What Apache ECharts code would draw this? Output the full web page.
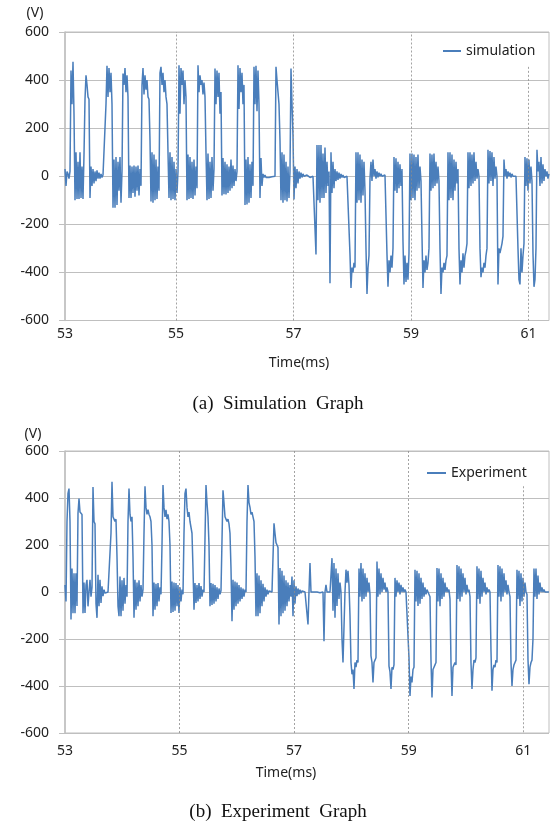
<!DOCTYPE html>
<html>
<head>
<meta charset="utf-8">
<script src="https://cdn.jsdelivr.net/npm/echarts@6/dist/echarts.min.js"></script>
<style>
html,body{margin:0;padding:0;background:#fff;}
#chart{width:556px;height:827px;}
</style>
</head>
<body>
<div id="chart"></div>
<script>
// ---- data (time in ms, voltage in V) ----
const simTimeStart = 53.11;     // first sample time (ms)
const simTimeStep = 0.017024;   // sample interval (ms)
const simValues = [
  30,-40,20,10,-10,20,440,300,476,260,
  -100,100,-95,60,-95,100,-90,40,-95,90,
  320,420,380,330,320,-90,40,-40,30,-30,
  20,-20,25,-10,15,-10,10,-5,5,0,
  5,300,460,330,450,350,430,300,-131,70,
  -131,80,-120,60,-60,80,-110,20,427,380,
  450,350,420,330,-90,45,-90,40,-70,45,
  -85,40,-60,45,-80,30,-40,380,450,340,
  420,360,400,330,320,150,-105,100,-110,90,
  -100,70,-95,40,-60,430,455,380,430,350,
  400,330,300,100,-90,100,-100,80,-95,60,
  -100,30,-70,20,462,260,450,380,440,300,
  400,330,-100,90,-95,80,-90,60,-95,70,
  -80,40,-50,462,350,420,380,400,340,390,
  330,100,-100,95,-95,60,-90,80,-60,30,
  448,300,440,330,430,260,350,-80,76,-75,
  60,-76,50,-70,40,-60,70,-50,45,-40,
  30,-20,20,462,280,450,350,430,300,380,
  -120,70,-117,80,-110,50,-90,60,-40,455,
  300,460,270,440,300,-90,76,-40,10,-5,
  5,-5,0,0,-5,0,0,-2,0,2,
  0,455,400,350,300,150,-100,100,-110,90,
  -100,60,-105,40,-90,20,448,300,170,-97,
  40,-50,30,-30,20,-10,15,-5,10,0,
  5,0,5,0,5,-5,0,2,0,0,
  0,-325,130,-100,130,-110,130,-90,95,-90,
  120,-70,60,-40,20,-445,100,-70,60,-50,
  30,-20,20,-15,15,-10,10,-5,5,-5,
  0,0,0,0,0,-325,-465,-380,-400,-360,
  -380,100,-110,100,-100,90,-110,70,-80,60,
  -60,-300,-490,-380,-330,-10,60,-20,70,0,
  30,-10,20,-5,15,0,10,0,5,0,
  5,0,-325,-460,-350,-400,-330,-380,-300,80,
  -60,75,-70,60,-50,50,-40,30,-270,-450,
  -330,-440,-360,-430,-320,95,-100,95,-90,90,
  -100,80,-60,90,-50,40,-20,-250,-465,-350,
  -400,-330,-390,-360,-300,95,-60,90,-50,95,
  -40,60,-30,40,-20,-300,-490,-380,-400,-360,
  -390,-350,-330,100,-100,100,-90,90,-100,70,
  -60,60,-30,30,-300,-450,-350,-400,-320,-380,
  -330,-310,-280,100,-50,100,-40,90,-30,100,
  -20,60,-10,30,0,-300,-420,-380,-400,-360,
  -380,-330,-300,110,-30,105,-20,100,-40,80,
  -10,40,0,-450,-300,-320,-300,-280,-250,70,
  0,30,-10,20,0,15,-5,10,0,5,
  0,0,0,-300,-430,-450,-300,-400,-330,-280,
  80,-40,75,-60,70,-30,40,-20,-320,-460,
  -430,-300,110,20,60,-40,80,-30,50,-20,
  30,0,20,-10,10
];

const expTimeStart = 53.0;
const expTimeStep = 0.017458;
const expValues = [
  30,-40,300,420,440,300,-117,100,-90,80,
  -90,80,-60,335,398,340,335,330,-90,40,
  -89,30,52,-61,0,52,-20,20,447,300,
  290,-50,-110,73,-61,52,-47,24,-18,10,
  -5,0,-5,0,0,-5,250,469,320,310,
  300,310,150,-60,-103,66,-103,50,-80,60,
  -50,30,-20,300,440,330,300,320,150,-110,
  52,-75,40,-60,50,-40,30,-20,10,250,
  450,360,330,350,330,320,300,200,-103,40,
  -75,35,-60,38,-40,20,-10,200,455,360,
  320,350,310,330,300,200,-89,45,-85,40,
  -80,38,-60,30,-89,20,-40,10,-10,250,
  420,440,360,320,340,300,300,250,100,-75,
  38,-47,30,-40,38,-30,25,-20,10,0,
  0,455,380,320,200,-61,38,-55,35,-50,
  30,-40,20,-30,15,-10,5,0,433,380,
  320,310,300,310,290,250,100,-124,52,-75,
  45,-60,40,-50,30,-40,20,-30,15,-20,
  10,0,300,455,380,360,330,340,320,300,
  150,-103,80,-103,70,-90,50,-60,35,-40,
  20,-20,10,-10,5,0,0,0,0,292,
  250,210,200,190,-138,102,-103,90,-90,70,
  -80,50,-60,40,-40,30,-20,66,-103,50,
  -50,24,-18,15,-10,10,-5,5,0,2,
  0,0,0,-138,0,123,0,-5,0,0,
  -3,0,0,0,0,-3,0,0,0,-209,
  0,30,0,0,0,0,0,144,-80,123,
  -110,100,-60,80,-30,40,0,-200,-300,-150,
  0,95,40,90,30,-100,-300,-350,-330,-413,
  -300,-320,-290,-300,100,-20,123,-40,100,-30,
  80,-20,60,0,40,-10,-272,-300,-385,-300,
  -290,-280,130,-20,100,-10,80,0,60,10,
  40,0,20,0,-315,-340,-413,-320,-330,-310,
  60,-20,50,0,40,-10,30,0,20,0,
  10,0,5,0,-280,-442,-360,-385,-330,-320,
  95,-40,90,-60,80,-50,60,-30,40,-20,
  20,-10,10,0,0,-20,-290,-449,-330,-320,
  -310,-300,102,-40,100,-61,80,-30,60,-20,
  40,0,20,0,10,-30,-300,-442,-320,-310,
  -300,-310,115,-30,110,-40,100,-20,80,0,
  60,-10,30,0,10,-20,-300,-413,-330,-290,
  -300,-280,110,-30,100,-50,90,-20,60,0,
  40,-10,20,0,10,0,-250,-420,-330,-310,
  -320,-290,-300,115,-20,110,-40,100,-20,80,
  0,50,-10,30,0,-20,-300,-400,-330,-310,
  -300,-290,95,-30,90,-60,80,-40,60,-20,
  40,0,-10,-287,-392,-320,-300,-290,-200,100,
  -20,100,-30,70,-10,40,0,20,0,10,
  0,0,0,0,0
];

const xLabelTimes = [53, 55, 57, 59, 61];
const fullMarkTimes = [55, 57, 59];
const partialMarkTime = 61;
const partialMarkTopSim = 455;
const partialMarkTopExp = 450;
const simName = 'simulation';
const expName = 'Experiment';

// ---- build ----
const simData = simValues.map((v, i) => [simTimeStart + i * simTimeStep, v]);
const expData = expValues.map((v, i) => [expTimeStart + i * expTimeStep, v]);

const FONT = '"Noto Sans", sans-serif';
const GRID_COLOR = '#bfbfbf';
const LINE_COLOR = '#4a7ebb';

function markLines(topVal) {
  return {
    silent: true,
    symbol: 'none',
    label: {show: false},
    lineStyle: {color: '#8c8c8c', type: [2, 2], width: 0.8},
    data: fullMarkTimes.map(t => ({xAxis: t})).concat([
      [{coord: [partialMarkTime, topVal]}, {coord: [partialMarkTime, -600]}]
    ])
  };
}

function yAxisCfg(gi) {
  return {
    gridIndex: gi, type: 'value', min: -600, max: 600, interval: 200,
    axisLine: {show: true, lineStyle: {color: GRID_COLOR, width: 1.5}},
    axisTick: {show: true, length: 6, lineStyle: {color: GRID_COLOR}},
    splitLine: {show: true, lineStyle: {color: GRID_COLOR, width: 1}},
    axisLabel: {margin: 16, fontSize: 14, color: '#222', fontFamily: FONT}
  };
}

const chart = echarts.init(document.getElementById('chart'), null, {renderer: 'canvas'});
chart.setOption({
  animation: false,
  backgroundColor: '#ffffff',
  grid: [
    {left: 65, top: 32, width: 484, height: 288.5, show: true, borderColor: GRID_COLOR, borderWidth: 1},
    {left: 65, top: 451, width: 484, height: 282, show: true, borderColor: GRID_COLOR, borderWidth: 1}
  ],
  xAxis: [
    {
      gridIndex: 0, type: 'value', min: simTimeStart, max: 61.35,
      axisLine: {show: false}, axisTick: {show: false}, splitLine: {show: false},
      axisLabel: {
        customValues: [simTimeStart].concat(xLabelTimes.slice(1)),
        formatter: v => String(Math.round(v)),
        margin: 7, fontSize: 14, color: '#222', fontFamily: FONT
      }
    },
    {
      gridIndex: 1, type: 'value', min: 53, max: 61.45, interval: 2,
      axisLine: {show: false}, axisTick: {show: false}, splitLine: {show: false},
      axisLabel: {margin: 11, fontSize: 14, color: '#222', fontFamily: FONT, showMaxLabel: false}
    }
  ],
  yAxis: [yAxisCfg(0), yAxisCfg(1)],
  legend: [
    {data: [simName], left: 438, top: 39, icon: 'rect', itemWidth: 18, itemHeight: 2,
     textStyle: {fontSize: 14, color: '#222', fontFamily: FONT}},
    {data: [expName], left: 422, top: 461, icon: 'rect', itemWidth: 19, itemHeight: 2,
     textStyle: {fontSize: 14, color: '#222', fontFamily: FONT}}
  ],
  series: [
    {
      name: simName, type: 'line', xAxisIndex: 0, yAxisIndex: 0, data: simData,
      showSymbol: false, symbol: 'none', sampling: null,
      lineStyle: {color: LINE_COLOR, width: 1.5}, itemStyle: {color: LINE_COLOR},
      markLine: markLines(partialMarkTopSim)
    },
    {
      name: expName, type: 'line', xAxisIndex: 1, yAxisIndex: 1, data: expData,
      showSymbol: false, symbol: 'none', sampling: null,
      lineStyle: {color: LINE_COLOR, width: 1.5}, itemStyle: {color: LINE_COLOR},
      markLine: markLines(partialMarkTopExp)
    }
  ],
  graphic: [
    {type: 'text', x: 35, y: 13, style: {text: '(V)', fontSize: 14, fill: '#222', fontFamily: FONT, align: 'center', verticalAlign: 'middle'}},
    {type: 'text', x: 33, y: 434, style: {text: '(V)', fontSize: 14, fill: '#222', fontFamily: FONT, align: 'center', verticalAlign: 'middle'}},
    {type: 'text', x: 299, y: 363, style: {text: 'Time(ms)', fontSize: 14, fill: '#222', fontFamily: FONT, align: 'center', verticalAlign: 'middle'}},
    {type: 'text', x: 286, y: 773, style: {text: 'Time(ms)', fontSize: 14, fill: '#222', fontFamily: FONT, align: 'center', verticalAlign: 'middle'}},
    {type: 'text', x: 278, y: 404, style: {text: '(a)  Simulation  Graph', fontSize: 19, fill: '#111', fontFamily: '"Liberation Serif", serif', align: 'center', verticalAlign: 'middle'}},
    {type: 'text', x: 278, y: 812, style: {text: '(b)  Experiment  Graph', fontSize: 19, fill: '#111', fontFamily: '"Liberation Serif", serif', align: 'center', verticalAlign: 'middle'}}
  ]
});
</script>
</body>
</html>
